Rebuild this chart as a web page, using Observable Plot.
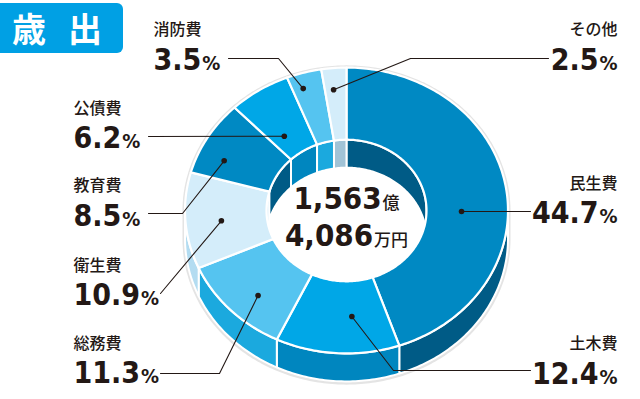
<!DOCTYPE html>
<html>
<head>
<meta charset="utf-8">
<script src="https://cdn.jsdelivr.net/npm/d3@7"></script>
<script src="https://cdn.jsdelivr.net/npm/@observablehq/plot@0.6"></script>
<style>
  html, body { margin: 0; padding: 0; background: #fff; }
  #wrap { position: relative; width: 640px; height: 399px; overflow: hidden; }
  #title {
    position: absolute; left: -6px; top: 3px; width: 129px; height: 50px;
    background: #00a0e4; border-radius: 6px; color: #fff;
    font-family: "Noto Sans CJK JP", sans-serif; font-weight: 700; font-size: 34px;
    line-height: 50px; letter-spacing: 22px; padding-left: 18px; box-sizing: border-box;
    white-space: nowrap;
  }
  #chart svg { display: block; }
</style>
</head>
<body>
<div id="wrap"><div id="chart"></div><div id="title">歳出</div></div>
<script>
// ---- data ----
const categories = ["民生費", "土木費", "総務費", "衛生費", "教育費", "公債費", "消防費", "その他"];
const shares = [44.7, 12.4, 11.3, 10.9, 8.5, 6.2, 3.5, 2.5];
const totalLines = ["1,563億", "4,086万円"];

// ---- styles ----
const topColors  = ["#0089c3", "#00a7e7", "#55c4f0", "#d4edfa", "#0089c3", "#00a7e7", "#55c4f0", "#d4edfa"];
const sideColors = ["#005b86", "#0086bf", "#1ba9de", "#b3dcf1", "#005b86", "#0086bf", "#1ba9de", "#a1c3d6"];
const ink = "#231815";
const numFont = "'DejaVu Sans Condensed', 'DejaVu Sans', sans-serif";
const jpFont = "'Noto Sans CJK JP', sans-serif";

// ---- layout (pixel space) ----
const cx = 346, cy = 210, R = 161.5, r = 80, k = 0.885, depth = 28;
// dot placement inside each slice: fraction along the slice, radial fraction
const dotF = [0.563, 0.37, 0.42, 0.47, 0.30, 0.33, 0.33, 0.40];
const dotT = [0.43, 0.49, 0.62, 0.56, 0.67, 0.30, 0.79, 0.70];
const side   = ["right", "right", "left", "left", "left", "left", "left", "right"];
const labelX = [617, 617, 73, 73, 73, 73, 153, 617];
const nameY  = [183, 343, 343, 265, 185, 108, 29, 29];
const pctY   = [212.4, 373.4, 372.4, 294.4, 215.4, 137.4, 59.4, 59.4];
const elbows = [null, [393, 370], [219, 373], null, [182, 213], null, [278, 58], [410, 58]];
const ends   = [[530, 211], [530, 370], [160, 373], [160, 293], [148, 213], [148, 136], [228, 58], [548, 58]];

// ---- geometry ----
const rad = Math.PI / 180;
const pt = (a, rr, dz) => ({x: cx + rr * Math.sin(a * rad), y: cy - rr * k * Math.cos(a * rad) + dz});
function arc(a0, a1, rr, dz) {
  const n = Math.max(2, Math.ceil(Math.abs(a1 - a0)));
  return d3.range(n + 1).map(i => pt(a0 + (a1 - a0) * i / n, rr, dz));
}
function addPolyTo(arr, id, pts, fill) { pts.concat([pts[0]]).forEach(p => arr.push({id, x: p.x, y: p.y, fill})); }

const cum = d3.cumsum(shares);
const slices = categories.map((c, i) => {
  const a0 = (cum[i] - shares[i]) / 100 * 360, a1 = cum[i] / 100 * 360;
  return {c, i, a0, a1, share: shares[i]};
});

// silhouette shadow and the hole
const shadow = [];
addPolyTo(shadow, "shadow", arc(-90, 90, R + 2.5, 0).concat(arc(90, 270, R + 2.5, depth + 1)), "#e4e4e4");
addPolyTo(shadow, "hole", arc(0, 360, r, 0), "#ffffff");

const walls = [];
slices.forEach(s => {
  // outer front wall
  const lo = Math.max(s.a0, 90), hi = Math.min(s.a1, 270);
  if (lo < hi) addPolyTo(walls, "ow" + s.i, arc(lo, hi, R, 0).concat(arc(hi, lo, R, depth)), sideColors[s.i]);
  // inner back wall ([0,90] and [270,360])
  [[0, 90], [270, 360]].forEach(([b0, b1], j) => {
    const l = Math.max(s.a0, b0), h = Math.min(s.a1, b1);
    if (l < h) addPolyTo(walls, "iw" + s.i + "_" + j, arc(l, h, r, 0).concat(arc(h, l, r, depth)), sideColors[s.i]);
  });
});

const tops = [];
slices.forEach(s => addPolyTo(tops, "t" + s.i, arc(s.a0, s.a1, R, 0).concat(arc(s.a1, s.a0, r, 0)), topColors[s.i]));

// labels
const labels = slices.map(s => {
  const a = s.a0 + (s.a1 - s.a0) * dotF[s.i];
  const rr = r + (R - r) * dotT[s.i];
  const dot = pt(a, rr, 0);
  return {...s, dot, side: side[s.i], lx: labelX[s.i], ny: nameY[s.i], py: pctY[s.i], pct: s.share.toFixed(1) + "%"};
});
const leaders = [];
labels.forEach(l => {
  leaders.push({id: l.i, x: l.dot.x, y: l.dot.y});
  if (elbows[l.i]) leaders.push({id: l.i, x: elbows[l.i][0], y: elbows[l.i][1]});
  leaders.push({id: l.i, x: ends[l.i][0], y: ends[l.i][1]});
});
const leftL = labels.filter(l => l.side === "left");
const rightL = labels.filter(l => l.side === "right");
const totals = totalLines.map((t, i) => ({t, i}));

const chart = Plot.plot({
  width: 640, height: 399, margin: 0,
  x: {domain: [0, 640], range: [0, 640], axis: null},
  y: {domain: [0, 399], range: [0, 399], axis: null},
  color: {type: "identity"},
  marks: [
    Plot.line(shadow, {x: "x", y: "y", z: "id", fill: "fill", stroke: "none", curve: "linear"}),
    Plot.line(walls, {x: "x", y: "y", z: "id", fill: "fill", stroke: "#fff", strokeWidth: 2, strokeLinejoin: "round", curve: "linear"}),
    Plot.line(tops, {x: "x", y: "y", z: "id", fill: "fill", stroke: "#fff", strokeWidth: 2.2, strokeLinejoin: "round", curve: "linear"}),
    Plot.line(leaders, {x: "x", y: "y", z: "id", stroke: ink, strokeWidth: 1.1, curve: "linear"}),
    Plot.dot(labels, {x: d => d.dot.x, y: d => d.dot.y, r: 2.8, fill: ink}),
    Plot.text(leftL, {x: "lx", y: "ny", text: "c", textAnchor: "start", fontSize: 16, fontWeight: 500, fontFamily: jpFont, fill: ink}),
    Plot.text(rightL, {x: "lx", y: "ny", text: "c", textAnchor: "end", fontSize: 16, fontWeight: 500, fontFamily: jpFont, fill: ink}),
    Plot.text(leftL, {x: "lx", y: "py", text: "pct", textAnchor: "start", fontSize: 30, fontWeight: 700, fontFamily: numFont, fill: ink, ariaDescription: "pct"}),
    Plot.text(rightL, {x: "lx", y: "py", text: "pct", textAnchor: "end", fontSize: 30, fontWeight: 700, fontFamily: numFont, fill: ink, ariaDescription: "pct"}),
    Plot.text(totals, {x: () => cx, y: d => 199 + d.i * 37, text: "t", textAnchor: "middle", fontSize: 31, fontWeight: 700, fontFamily: numFont, fill: ink, ariaDescription: "total"})
  ]
});

// split trailing unit into a smaller tspan
function splitSuffix(svg, desc, size, family, weight, dx) {
  d3.select(svg).selectAll(`g[aria-description="${desc}"] text`).each(function () {
    const s = this.textContent;
    const m = s.match(/^([\d.,]+)(.*)$/);
    if (!m) return;
    const t = d3.select(this);
    t.text(null);
    t.append("tspan").text(m[1]);
    t.append("tspan").attr("font-size", size).attr("font-family", family).attr("font-weight", weight).attr("dx", dx).text(m[2]);
  });
}
splitSuffix(chart, "pct", 20, numFont, 700, 1);
splitSuffix(chart, "total", 17, jpFont, 500, 1);

document.getElementById("chart").appendChild(chart);
</script>
</body>
</html>
